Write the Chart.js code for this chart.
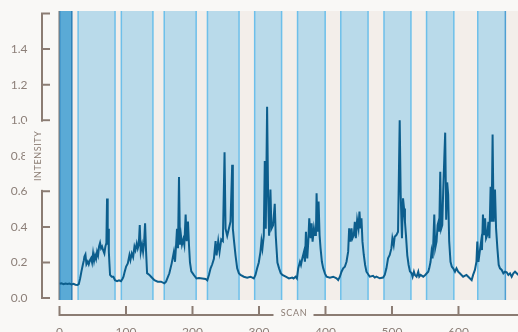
<!DOCTYPE html>
<html>
<head>
<meta charset="utf-8">
<script src="https://cdn.jsdelivr.net/npm/chart.js@4.4.0/dist/chart.umd.min.js"></script>
<style>
    html, body { margin: 0; padding: 0; background: #f9f8f6; }
    #wrap { width: 518px; height: 332px; }
</style>
</head>
<body>
<div id="wrap"><canvas id="chart" width="518" height="332"></canvas></div>
<script>
// scan number / intensity
const scans = [
    0, 3, 6, 9, 12, 15, 18, 21, 24, 27, 29, 31, 33, 35, 36.5, 37.5, 39, 40.5, 42.5, 44,
    46, 47.5, 49, 50.5, 52, 53.5, 55, 56.5, 58, 59.5, 61, 62.5, 64, 66, 67.5, 69, 70.5, 71.5, 72.5, 73.5,
    74.2, 75, 76, 78.5, 81, 83.5, 86.5, 89.5, 92.5, 95, 96.2, 98.2, 100.2, 102.7, 105.2, 106.7, 108.7, 110.7, 112.7, 114.2,
    116.2, 117.7, 119.2, 120.7, 122.2, 124.2, 125.7, 127.2, 128.7, 130.2, 131.7, 135.2, 137.7, 142.7, 147.7, 152.7, 157.7, 160.2, 165.2, 168.7,
    172, 173.7, 175.2, 176.7, 178.2, 179.7, 181.2, 182.7, 184.2, 186.2, 187.7, 189.7, 191.2, 193.2, 194.7, 196.2, 198.2, 202.2, 206, 209.7,
    214.7, 219.7, 222.2, 224.7, 227.2, 229.7, 232.2, 234.7, 236.2, 238.7, 240.7, 243.2, 245.7, 248.2, 249.7, 252.2, 254.7, 257.2, 259.7, 260.7,
    262.2, 264.7, 267.2, 269.7, 272.2, 277.2, 282.2, 287.2, 292.2, 294.7, 297.2, 299.7, 302.2, 303.7, 305.2, 307.2, 308.7, 310.2, 312.2, 313.7,
    315.2, 317.2, 318.7, 321.2, 323.7, 325.2, 327.7, 330.2, 332.7, 335.2, 340.2, 345, 350, 352, 355, 357, 359, 361.6, 363.1, 365.1,
    367.6, 369.1, 370.6, 372.6, 374.1, 375.6, 377.6, 379.1, 380.6, 382.6, 384.1, 385.6, 386.6, 388.1, 389.6, 391.1, 392.6, 394.6, 396.6, 399.1,
    401.6, 406.6, 411.6, 416.6, 419.1, 421.6, 424.1, 426.6, 429.1, 431.6, 434.1, 435.6, 437.6, 439.1, 440.6, 442.6, 444.1, 445.6, 447.6, 449.6,
    451.1, 452.6, 454.1, 455.6, 457.6, 459.6, 461.6, 466.6, 471.6, 474.1, 476.6, 481.6, 486.6, 489.1, 491.6, 494.1, 496.6, 499.1, 500.6, 502.6,
    504.1, 506.6, 509.1, 511.6, 513.1, 515, 516.6, 518.1, 519.5, 521, 523, 525, 527, 529.5, 531, 533, 534.5, 537, 539.5, 541,
    543, 547, 550, 554.5, 556, 558, 559.5, 561, 562, 563.6, 565, 567, 568.6, 570, 571, 572.6, 574, 575.6, 577, 578.7,
    580, 581.5, 583, 584.5, 586, 588, 590, 592, 594.7, 597, 599.5, 602, 607, 612, 617, 619.8, 622, 624.7, 627, 628.3,
    630, 632, 634, 635.3, 636.8, 638.3, 640, 641.5, 643.3, 645, 646.5, 648.3, 649.8, 651.3, 652.8, 654.9, 656.5, 658.5, 660.5, 662.4,
    665, 667.5, 670, 672.5, 675, 677.5, 680, 682.5, 685, 687.5, 690
];
const intensity = [
    0.080, 0.083, 0.078, 0.082, 0.079, 0.081, 0.077, 0.080, 0.075, 0.074, 0.078, 0.11, 0.15, 0.186, 0.21, 0.233, 0.245, 0.19, 0.205, 0.19,
    0.215, 0.225, 0.20, 0.25, 0.21, 0.24, 0.22, 0.26, 0.24, 0.29, 0.31, 0.28, 0.29, 0.265, 0.25, 0.29, 0.31, 0.56, 0.30, 0.39,
    0.26, 0.20, 0.13, 0.12, 0.12, 0.10, 0.095, 0.10, 0.095, 0.11, 0.12, 0.15, 0.177, 0.195, 0.242, 0.214, 0.251, 0.23, 0.289, 0.27,
    0.307, 0.279, 0.30, 0.41, 0.26, 0.30, 0.26, 0.31, 0.42, 0.26, 0.14, 0.13, 0.12, 0.10, 0.092, 0.092, 0.083, 0.092, 0.139, 0.195,
    0.26, 0.204, 0.29, 0.39, 0.28, 0.68, 0.30, 0.35, 0.30, 0.33, 0.30, 0.47, 0.32, 0.43, 0.30, 0.20, 0.15, 0.129, 0.11, 0.113,
    0.11, 0.107, 0.10, 0.13, 0.167, 0.19, 0.22, 0.32, 0.24, 0.32, 0.26, 0.33, 0.32, 0.82, 0.39, 0.35, 0.39, 0.43, 0.75, 0.39,
    0.33, 0.24, 0.167, 0.14, 0.13, 0.12, 0.115, 0.12, 0.11, 0.13, 0.167, 0.20, 0.26, 0.32, 0.28, 0.35, 0.77, 0.39, 1.076, 0.58,
    0.35, 0.61, 0.39, 0.41, 0.53, 0.35, 0.20, 0.167, 0.14, 0.13, 0.12, 0.11, 0.115, 0.11, 0.12, 0.11, 0.167, 0.204, 0.186, 0.223,
    0.26, 0.204, 0.373, 0.223, 0.317, 0.448, 0.336, 0.42, 0.317, 0.392, 0.354, 0.354, 0.589, 0.373, 0.542, 0.354, 0.279, 0.204, 0.167, 0.139,
    0.12, 0.115, 0.12, 0.111, 0.101, 0.12, 0.148, 0.167, 0.176, 0.204, 0.261, 0.392, 0.317, 0.392, 0.336, 0.354, 0.429, 0.336, 0.439, 0.392,
    0.486, 0.392, 0.448, 0.317, 0.242, 0.186, 0.148, 0.12, 0.125, 0.115, 0.12, 0.111, 0.115, 0.13, 0.167, 0.223, 0.242, 0.279, 0.336, 0.298,
    0.345, 0.354, 0.373, 1.0, 0.579, 0.336, 0.561, 0.504, 0.429, 0.354, 0.24, 0.186, 0.15, 0.139, 0.12, 0.148, 0.13, 0.12, 0.148, 0.12,
    0.13, 0.12, 0.13, 0.148, 0.167, 0.204, 0.261, 0.223, 0.298, 0.47, 0.28, 0.317, 0.41, 0.43, 0.373, 0.71, 0.39, 0.41, 0.60, 0.79,
    0.93, 0.44, 0.65, 0.58, 0.32, 0.204, 0.176, 0.167, 0.148, 0.167, 0.148, 0.139, 0.12, 0.13, 0.111, 0.101, 0.13, 0.158, 0.204, 0.317,
    0.204, 0.261, 0.317, 0.27, 0.47, 0.354, 0.448, 0.336, 0.354, 0.429, 0.336, 0.625, 0.429, 0.92, 0.429, 0.61, 0.392, 0.279, 0.186, 0.167,
    0.158, 0.139, 0.148, 0.145, 0.13, 0.139, 0.12, 0.139, 0.148, 0.139, 0.13
];

// shaded scan windows (first one is the highlighted window)
const bandStart = [0.5, 28, 93, 157.5, 222.5, 293.5, 358, 423, 488, 552, 629];
const bandEnd = [18.5, 83.5, 140.5, 205.5, 270, 334, 399.5, 464, 528.5, 593, 670.5];

const xTicks = [0, 100, 200, 300, 400, 500, 600];
const xTickLabels = ['0', '100', '200', '300', '400', '500', '600'];
const yTicks = [0, 0.2, 0.4, 0.6, 0.8, 1.0, 1.2, 1.4, 1.6];
const yTickLabels = ['0.0', '0.2', '0.4', '0.6', '0.8', '1.0', '1.2', '1.4', ''];

const axisColor = '#8b7c73';
const pageBg = '#f9f8f6';

const decor = {
    id: 'decor',
    beforeDraw(chart) {
        const { ctx, chartArea: a } = chart;
        ctx.save();
        ctx.fillStyle = '#f3eeea';
        ctx.fillRect(a.left, a.top, a.right - a.left, a.bottom - a.top);
        ctx.restore();
    },
    beforeDatasetsDraw(chart) {
        const { ctx, chartArea: a, scales: { x } } = chart;
        ctx.save();
        bandStart.forEach((s, i) => {
            const x0 = x.getPixelForValue(s);
            const x1 = x.getPixelForValue(bandEnd[i]);
            ctx.fillStyle = i === 0 ? '#5aaad6' : '#b9daea';
            ctx.fillRect(x0, a.top, x1 - x0, a.bottom - a.top);
            ctx.lineWidth = 1.5;
            ctx.strokeStyle = i === 0 ? '#3a90c8' : '#6dbfea';
            ctx.beginPath();
            ctx.moveTo(x0, a.top); ctx.lineTo(x0, a.bottom);
            ctx.stroke();
            ctx.strokeStyle = i === 0 ? '#2b7fb7' : (i === bandStart.length - 1 ? '#4f9fd2' : '#6dbfea');
            ctx.beginPath();
            ctx.moveTo(x1, a.top); ctx.lineTo(x1, a.bottom);
            ctx.stroke();
        });
        // left frame line
        ctx.strokeStyle = '#7a7470';
        ctx.lineWidth = 1;
        ctx.beginPath();
        ctx.moveTo(a.left - 0.5, a.top); ctx.lineTo(a.left - 0.5, a.bottom);
        ctx.stroke();
        ctx.restore();
    },
    afterDraw(chart) {
        const { ctx, chartArea: a, scales: { x, y } } = chart;
        ctx.save();
        ctx.strokeStyle = axisColor;
        ctx.lineWidth = 2;
        ctx.lineCap = 'butt';

        // y axis, set off to the left
        const ax = a.left - 17.5;
        ctx.beginPath();
        ctx.moveTo(ax, y.getPixelForValue(yTicks[0]) + 1);
        ctx.lineTo(ax, y.getPixelForValue(yTicks[yTicks.length - 1]) - 1);
        yTicks.forEach(v => {
            const py = y.getPixelForValue(v);
            ctx.moveTo(ax - 1, py);
            ctx.lineTo(ax + 8, py);
        });
        ctx.stroke();

        // x axis, set off below
        const ay = a.bottom + 15;
        ctx.beginPath();
        ctx.moveTo(x.getPixelForValue(xTicks[0]) - 1, ay);
        ctx.lineTo(chart.width, ay);
        xTicks.forEach(v => {
            const px = x.getPixelForValue(v);
            ctx.moveTo(px, ay + 1);
            ctx.lineTo(px, ay - 9);
        });
        ctx.stroke();

        // axis titles sit in gaps cut from the axis lines
        ctx.fillStyle = pageBg;
        const yMid = (y.getPixelForValue(1.0) + y.getPixelForValue(0.6)) / 2;
        ctx.fillRect(25, y.getPixelForValue(1.0) + 1.5, 28, y.getPixelForValue(0.6) - y.getPixelForValue(1.0) - 3);
        ctx.fillRect(273.5, ay - 10, 40, 8 + 10);

        ctx.fillStyle = axisColor;
        ctx.font = '9px Lato';
        ctx.letterSpacing = '0.6px';
        ctx.textAlign = 'center';
        ctx.textBaseline = 'middle';
        ctx.fillText('SCAN', 294, ay - 2);

        ctx.translate(38.5, yMid);
        ctx.rotate(-Math.PI / 2);
        ctx.fillText('INTENSITY', 0, 0);
        ctx.restore();
    }
};

document.addEventListener('DOMContentLoaded', () => {
    const ctx = document.getElementById('chart').getContext('2d');
    new Chart(ctx, {
        type: 'line',
        data: {
            datasets: [{
                data: scans.map((s, i) => ({ x: s, y: intensity[i] })),
                borderColor: '#0c5e8d',
                borderWidth: 2,
                pointRadius: 0,
                tension: 0,
                fill: false
            }]
        },
        options: {
            responsive: false,
            animation: false,
            events: [],
            layout: { padding: { top: 11, right: 0, left: 0, bottom: 0 } },
            plugins: { legend: { display: false }, tooltip: { enabled: false } },
            scales: {
                x: {
                    type: 'linear',
                    min: 0,
                    max: 689.5,
                    grid: { display: false, drawTicks: false },
                    border: { display: false },
                    afterBuildTicks: s => { s.ticks = xTicks.map(v => ({ value: v })); },
                    afterFit: s => {
                        s.height = 32;
                        s.paddingLeft = 0; s.paddingRight = 0;
                        s.paddingTop = 0; s.paddingBottom = 0;
                    },
                    ticks: {
                        padding: 25,
                        color: '#8c7f78',
                        font: { family: 'Lato', size: 12 },
                        maxRotation: 0,
                        autoSkip: false,
                        callback: (v, i) => xTickLabels[i]
                    }
                },
                y: {
                    type: 'linear',
                    min: -0.011,
                    max: 1.614,
                    grid: { display: false, drawTicks: false },
                    border: { display: false },
                    afterBuildTicks: s => { s.ticks = yTicks.map(v => ({ value: v })); },
                    afterFit: s => {
                        s.width = 59.5;
                        s.paddingTop = 0; s.paddingBottom = 0;
                        s.paddingLeft = 0; s.paddingRight = 0;
                    },
                    ticks: {
                        padding: 32,
                        color: '#8c7f78',
                        font: { family: 'Lato', size: 12 },
                        autoSkip: false,
                        callback: (v, i) => yTickLabels[i]
                    }
                }
            }
        },
        plugins: [decor]
    });
});
</script>
</body>
</html>
